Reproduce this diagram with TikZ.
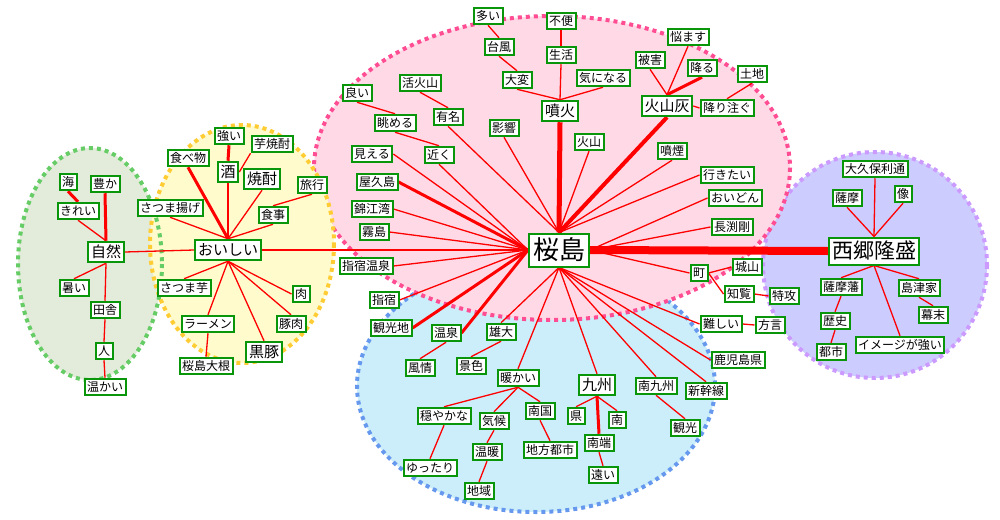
\documentclass[tikz,border=0pt]{standalone}
\usepackage{fontspec}
\newfontfamily\jp{Noto Sans CJK JP}
\pgfdeclarelayer{bglayer}
\pgfdeclarelayer{edgelayer}
\pgfsetlayers{bglayer,edgelayer,main}
\definecolor{ngreen}{HTML}{0A960A}
\definecolor{gfill}{HTML}{E3EBDA}
\definecolor{gline}{HTML}{66CC66}
\definecolor{yfill}{HTML}{FFFBCC}
\definecolor{yline}{HTML}{FFCC33}
\definecolor{pfill}{HTML}{FFDAE6}
\definecolor{pline}{HTML}{FF4D94}
\definecolor{bfill}{HTML}{CCEEFA}
\definecolor{bline}{HTML}{6699EE}
\definecolor{vfill}{HTML}{CCCCFF}
\definecolor{vline}{HTML}{CC99FF}
\definecolor{ered}{HTML}{FF0000}
\tikzset{
  box/.style={draw=ngreen, line width=2pt, fill=white, rectangle, inner ysep=0pt},
  wsm/.style={box, font=\jp\fontsize{12pt}{14pt}\selectfont, inner xsep=2.5pt, minimum height=16.5pt, text height=10pt, text depth=1pt},
  wmd/.style={box, font=\jp\fontsize{15pt}{17pt}\selectfont, inner xsep=2.8pt, minimum height=20.5pt, text height=12.5pt, text depth=1pt},
  wbig/.style={box, font=\jp\fontsize{26pt}{30pt}\selectfont, inner xsep=4pt, minimum height=33pt, text height=21.5pt, text depth=1.8pt},
  wxl/.style={box, font=\jp\fontsize{21pt}{25pt}\selectfont, inner xsep=3pt, minimum height=27pt, text height=17.4pt, text depth=1.5pt},
  ed/.style={draw=ered, line width=1.3pt},
  edT/.style={draw=ered, line width=3pt},
  edF/.style={draw=ered, line width=4pt},
  edH/.style={draw=ered, line width=5pt},
  edX/.style={draw=ered, line width=8pt},
  dots/.style={line width=4pt, dash pattern=on 4pt off 4pt},
}
\begin{document}
\begin{tikzpicture}[x=1pt,y=-1pt]
\useasboundingbox (0,0) rectangle (1000,519);
\begin{pgfonlayer}{bglayer}
\fill[bfill] (536,386) ellipse [x radius=179, y radius=126];
\draw[bline,dots] (536,386) ellipse [x radius=179, y radius=126];
\fill[vfill] (875,265) ellipse [x radius=112, y radius=113];
\draw[vline,dots] (875,265) ellipse [x radius=112, y radius=113];
\fill[pfill] (552,168) ellipse [x radius=238, y radius=152];
\draw[pline,dots] (552,168) ellipse [x radius=238, y radius=152];
\fill[gfill] (90,264) ellipse [x radius=72, y radius=116];
\fill[yfill] (242,244) ellipse [x radius=92, y radius=119];
\draw[gline,dots] (90,264) ellipse [x radius=72, y radius=116];
\draw[yline,dots] (242,244) ellipse [x radius=92, y radius=119];
\end{pgfonlayer}

% green group
\node[wsm] (n01) at (68,182) {海};
\node[wsm] (n02) at (105,184) {豊か};
\node[wsm] (n03) at (78,211) {きれい};
\node[wmd] (jz) at (106,252) {自然};
\node[wsm] (n04) at (74,288) {暑い};
\node[wsm] (n05) at (105,310) {田舎};
\node[wsm] (n06) at (104,351) {人};
\node[wsm] (n07) at (105,387) {温かい};
% yellow group
\node[wmd] (oi) at (228,250) {おいしい};
\node[wsm] (y1) at (229,136) {強い};
\node[wsm] (y2) at (272,144) {芋焼酎};
\node[wsm] (y3) at (188,158) {食べ物};
\node[wmd] (sake) at (228,172) {酒};
\node[wmd] (shochu) at (262,179) {焼酎};
\node[wsm] (y4) at (312,185) {旅行};
\node[wsm] (y5) at (170,208) {さつま揚げ};
\node[wsm] (y6) at (273,215) {食事};
\node[wsm] (y7) at (184,288) {さつま芋};
\node[wsm] (y8) at (301,294) {肉};
\node[wsm] (y9) at (208,324) {ラーメン};
\node[wsm] (y10) at (291,324) {豚肉};
\node[wmd] (kuro) at (264,352) {黒豚};
\node[wsm] (y11) at (206,366) {桜島大根};
% pink group
\node[wbig] (S) at (559,250) {桜島};
\node[wmd] (funka) at (560,111) {噴火};
\node[wmd] (kazan) at (667,106) {火山灰};
\node[wsm] (p1) at (488,16) {多い};
\node[wsm] (p2) at (561,21) {不便};
\node[wsm] (p3) at (499,47) {台風};
\node[wsm] (p4) at (561,55) {生活};
\node[wsm] (p5) at (517,80) {大変};
\node[wsm] (p6) at (603,78) {気になる};
\node[wsm] (p7) at (420,83) {活火山};
\node[wsm] (p8) at (357,93) {良い};
\node[wsm] (p9) at (448,117) {有名};
\node[wsm] (p10) at (395,123) {眺める};
\node[wsm] (p11) at (504,128) {影響};
\node[wsm] (p12) at (589,142) {火山};
\node[wsm] (p13) at (372,154) {見える};
\node[wsm] (p14) at (439,155) {近く};
\node[wsm] (p15) at (377,182) {屋久島};
\node[wsm] (p16) at (372,209) {錦江湾};
\node[wsm] (p17) at (374,232) {霧島};
\node[wsm] (p18) at (366,266) {指宿温泉};
\node[wsm] (p19) at (384,300) {指宿};
\node[wsm] (p20) at (391,328) {観光地};
\node[wsm] (p21) at (446,333) {温泉};
\node[wsm] (p22) at (501,332) {雄大};
\node[wsm] (q1) at (688,37) {悩ます};
\node[wsm] (q2) at (650,60) {被害};
\node[wsm] (q3) at (702,68) {降る};
\node[wsm] (q4) at (752,74) {土地};
\node[wsm] (q5) at (727,108) {降り注ぐ};
\node[wsm] (q6) at (672,151) {噴煙};
\node[wsm] (q7) at (727,175) {行きたい};
\node[wsm] (q8) at (735,198) {おいどん};
\node[wsm] (q9) at (732,227) {長渕剛};
\node[wsm] (r1) at (699,273) {町};
\node[wsm] (r2) at (747,267) {城山};
\node[wsm] (r3) at (739,294) {知覧};
\node[wsm] (r4) at (784,296) {特攻};
\node[wsm] (r5) at (721,324) {難しい};
\node[wsm] (r6) at (770,325) {方言};
\node[wsm] (r7) at (738,360) {鹿児島県};
\node[wsm] (r8) at (656,386) {南九州};
\node[wsm] (r9) at (706,391) {新幹線};
\node[wsm] (r10) at (685,428) {観光};
% blue group
\node[wsm] (b1) at (420,368) {風情};
\node[wsm] (b2) at (471,366) {景色};
\node[wsm] (b3) at (518,378) {暖かい};
\node[wsm] (b4) at (444,416) {穏やかな};
\node[wsm] (b5) at (494,421) {気候};
\node[wsm] (b6) at (540,411) {南国};
\node[wmd] (kyu) at (597,385) {九州};
\node[wsm] (b7) at (576,416) {県};
\node[wsm] (b8) at (617,420) {南};
\node[wsm] (b9) at (599,443) {南端};
\node[wsm] (b10) at (550,450) {地方都市};
\node[wsm] (b11) at (487,452) {温暖};
\node[wsm] (b12) at (430,468) {ゆったり};
\node[wsm] (b13) at (479,491) {地域};
\node[wsm] (b14) at (603,475) {遠い};
% purple group
\node[wxl] (saigo) at (874,251) {西郷隆盛};
\node[wsm] (u1) at (875,169) {大久保利通};
\node[wsm] (u2) at (847,198) {薩摩};
\node[wsm] (u3) at (903,194) {像};
\node[wsm] (u4) at (841,287) {薩摩藩};
\node[wsm] (u5) at (919,288) {島津家};
\node[wsm] (u6) at (835,321) {歴史};
\node[wsm] (u7) at (933,315) {幕末};
\node[wsm] (u8) at (831,352) {都市};
\node[wsm] (u9) at (900,345) {イメージが強い};

\begin{pgfonlayer}{edgelayer}
% green
\draw[edT] (n01.south) -- (n03.north);
\draw[edT] (n02.south) -- (jz.north);
\draw[ed] (n03.south) -- (jz.north);
\draw[ed] (jz.east) -- (oi.west);
\draw[ed] (n04.north) -- (jz.south);
\draw[ed] (n05.north) -- (jz.south);
\draw[ed] (n06.north) -- (n05.south);
\draw[ed] (n07.north) -- (n06.south);
% yellow
\draw[edT] (y3.south) -- (oi.north);
\draw[ed] (sake.south) -- (oi.north);
\draw[ed] (shochu.south) -- (oi.north);
\draw[ed] (y5.south) -- (oi.north);
\draw[ed] (y6.south) -- (oi.north);
\draw[edT] (y1.south) -- (sake.north);
\draw[ed] (y2.south west) -- (sake.east);
\draw[ed] (y4.south) -- (y6.north);
\draw[ed] (oi.south) -- (y7.north);
\draw[ed] (oi.south) -- (y9.north);
\draw[ed] (oi.south) -- (kuro.north);
\draw[ed] (oi.south) -- (y10.north);
\draw[ed] (oi.south) -- (y8.west);
\draw[ed] (y9.south) -- (y11.north);
\draw[ed] (oi.east) -- (S.west);
% pink top
\draw[ed] (p1.south) -- (p3.north);
\draw[ed] (p3.south) -- (p5.north);
\draw[ed] (p5.south) -- (funka.north);
\draw[ed] (p2.south) -- (p4.north);
\draw[ed] (p4.south) -- (funka.north);
\draw[ed] (p6.south) -- (funka.north);
\draw[edH] (funka.south) -- (S.north);
\draw[ed] (q2.south) -- (kazan.north);
\draw[ed] (q1.south) -- (kazan.north);
\draw[edT] (q3.south) -- (kazan.north);
\draw[ed] (kazan.east) -- (q5.west);
\draw[ed] (q4.south) -- (q5.north);
\draw[edF] (kazan.south) -- (S.north);
\draw[ed] (q6.south) -- (S.north);
\draw[ed] (q7.west) -- (S.north);
\draw[ed] (q8.west) -- (S.east);
\draw[ed] (q9.west) -- (S.east);
\draw[edX] (S.east) -- (saigo.west);
\draw[ed] (S.east) -- (r1.west);
\draw[ed] (r1.east) -- (r2.west);
\draw[ed] (r1.east) -- (r3.west);
\draw[ed] (r3.east) -- (r4.west);
\draw[ed] (S.south) -- (r5.west);
\draw[ed] (r5.east) -- (r6.west);
\draw[ed] (S.south) -- (r7.west);
\draw[ed] (S.south) -- (r9.north);
\draw[ed] (S.south) -- (r8.north);
\draw[ed] (S.south) -- (kyu.north);
\draw[ed] (S.south) -- (b3.north);
\draw[ed] (S.south) -- (p22.north);
% pink left
\draw[ed] (p8.south) -- (p10.north);
\draw[ed] (p10.south) -- (p14.north);
\draw[ed] (p14.south) -- (S.west);
\draw[ed] (p7.south) -- (p9.north);
\draw[ed] (p9.south) -- (S.north);
\draw[ed] (p11.south) -- (S.north);
\draw[ed] (p12.south) -- (S.north);
\draw[ed] (p13.east) -- (S.west);
\draw[edT] (p15.east) -- (S.west);
\draw[ed] (p16.east) -- (S.west);
\draw[ed] (p17.east) -- (S.west);
\draw[ed] (p18.east) -- (S.west);
\draw[ed] (p19.east) -- (S.west);
\draw[edT] (p20.east) -- (S.west);
\draw[edT] (p21.east) -- (S.west);
% blue
\draw[ed] (p21.south) -- (b1.north);
\draw[ed] (p22.south) -- (b2.north);
\draw[ed] (b3.south) -- (b4.north);
\draw[ed] (b3.south) -- (b5.north);
\draw[ed] (b3.south) -- (b6.north);
\draw[ed] (b4.south) -- (b12.north);
\draw[ed] (b5.south) -- (b11.north);
\draw[ed] (b11.south) -- (b13.north);
\draw[ed] (b6.south) -- (b10.north);
\draw[ed] (kyu.south) -- (b7.north);
\draw[ed] (kyu.south) -- (b8.north);
\draw[edT] (kyu.south) -- (b9.north);
\draw[ed] (b9.south) -- (b14.north);
\draw[ed] (r8.south) -- (r10.north);
% purple
\draw[ed] (u1.south) -- (saigo.north);
\draw[ed] (u2.south) -- (saigo.north);
\draw[ed] (u3.south) -- (saigo.north);
\draw[ed] (saigo.south) -- (u4.north);
\draw[ed] (saigo.south) -- (u5.north);
\draw[ed] (saigo.south) -- (u9.north);
\draw[ed] (u5.south) -- (u7.north);
\draw[ed] (u4.south) -- (u6.north);
\draw[ed] (u6.south) -- (u8.north);
\end{pgfonlayer}
\end{tikzpicture}
\end{document}
